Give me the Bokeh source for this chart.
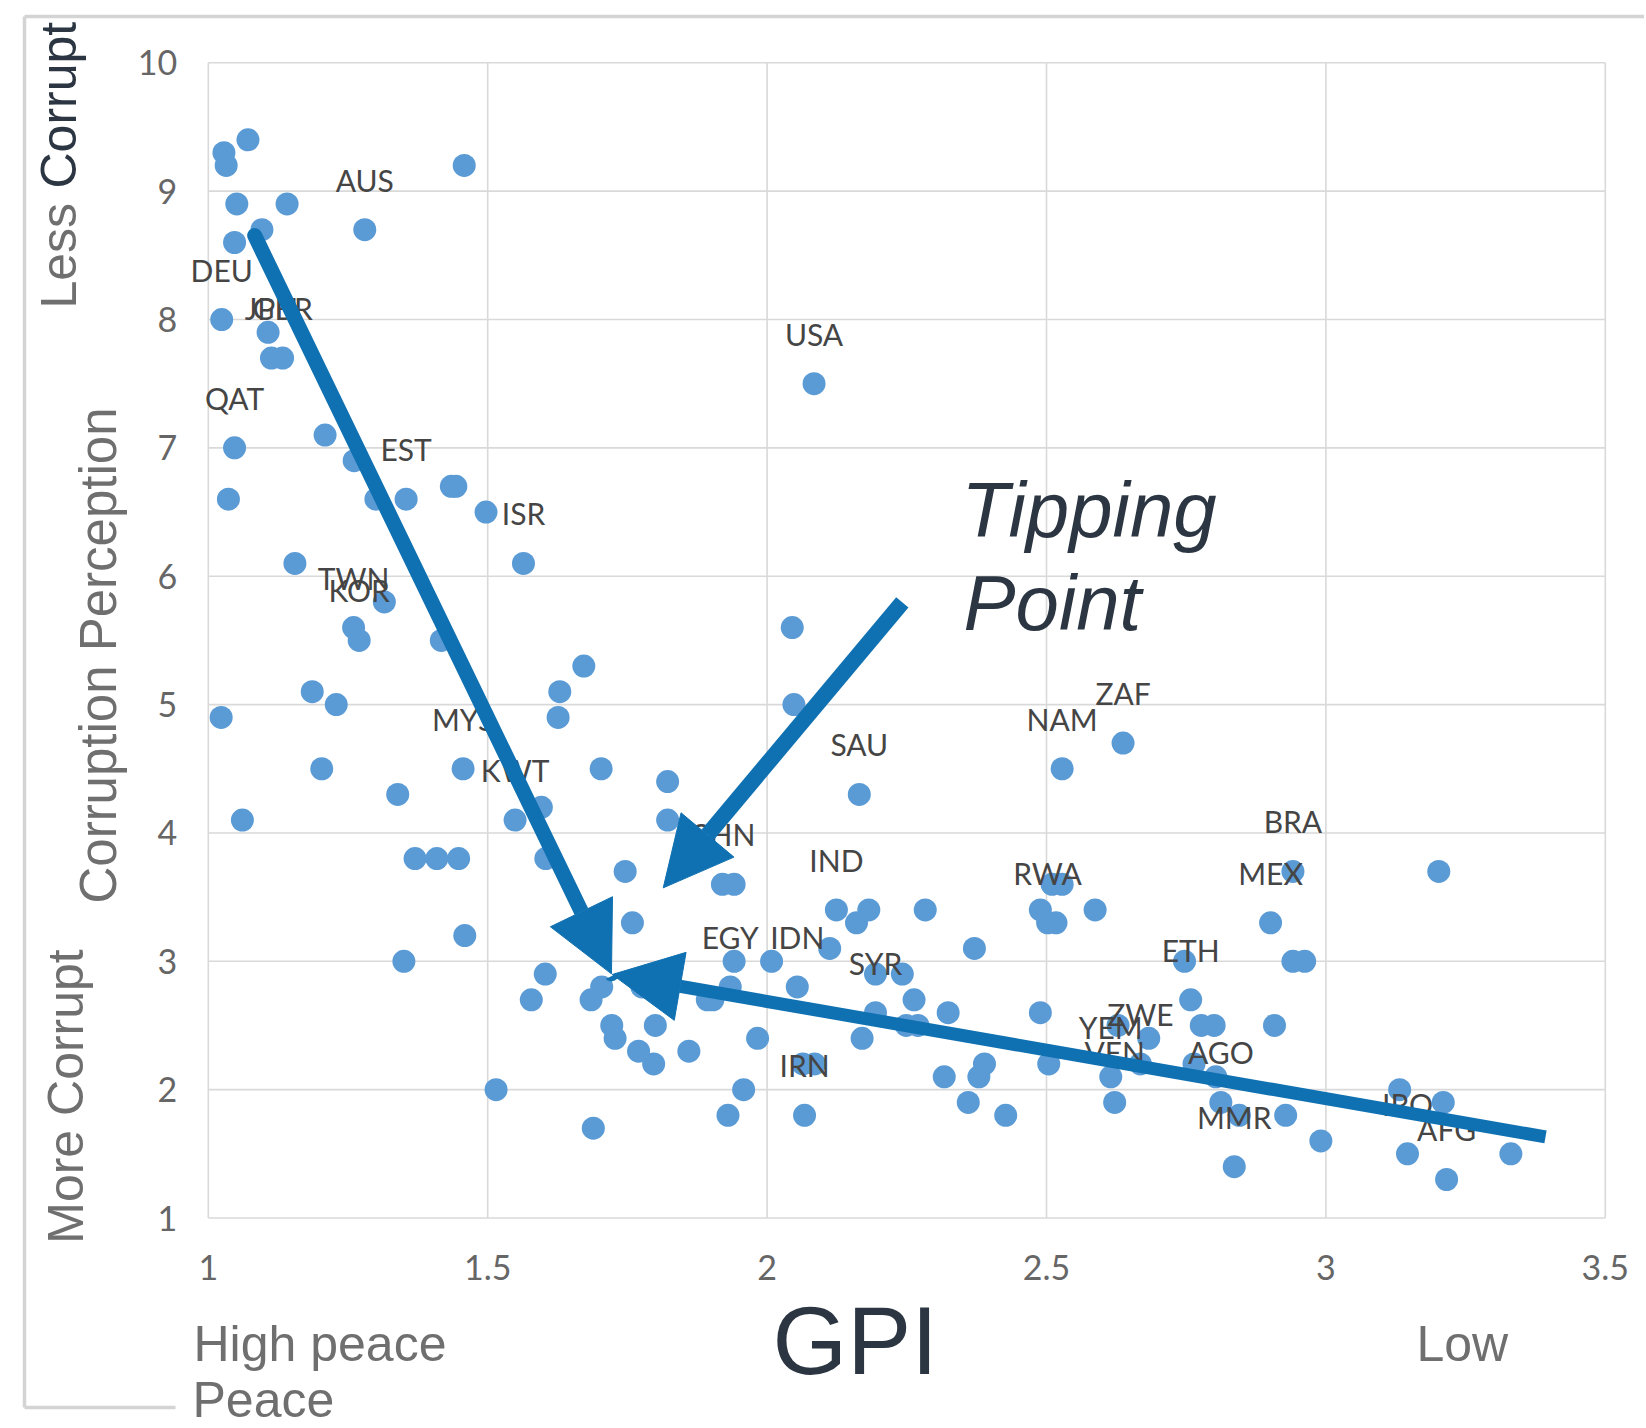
import math
from bokeh.plotting import figure
from bokeh.models import ColumnDataSource, Label, Arrow, NormalHead, FixedTicker, Range1d
from bokeh.core.properties import value
from bokeh.embed import file_html
from bokeh.resources import INLINE

# ---------------- data ----------------
gpi = [1.028, 1.032, 1.071, 1.458, 1.051, 1.141, 1.096, 1.280, 1.047, 1.024,
       1.107, 1.113, 1.133, 2.084, 1.047, 1.209, 1.036, 1.261, 1.300, 1.354,
       1.435, 1.443, 1.497, 1.564, 1.155, 1.260, 1.270, 1.315, 1.417, 1.672,
       1.629, 1.626, 1.186, 1.229, 1.023, 1.203, 1.456, 1.703, 1.822, 1.339,
       1.596, 1.549, 1.061, 1.822, 1.370, 1.409, 1.448, 1.604, 1.746, 1.920,
       1.941, 2.045, 2.048, 2.165, 2.528, 2.637, 1.759, 1.459, 1.350, 1.515,
       1.689, 2.124, 2.182, 2.160, 2.283, 2.112, 2.371, 1.941, 2.008, 1.603,
       1.704, 1.685, 1.578, 1.776, 1.934, 2.054, 2.194, 2.242, 1.893, 1.903,
       2.263, 2.194, 2.324, 2.489, 2.249, 2.270, 1.722, 1.728, 1.800, 2.170,
       1.983, 1.770, 1.797, 1.860, 2.064, 2.085, 2.067, 2.317, 2.379, 2.389,
       2.504, 1.958, 1.930, 2.360, 2.427, 2.489, 2.510, 2.528, 2.502, 2.517,
       2.587, 2.941, 2.901, 3.202, 2.747, 2.941, 2.962, 2.758, 2.628, 2.683,
       2.668, 2.615, 2.622, 2.777, 2.800, 2.908, 2.764, 2.803, 2.812, 2.845,
       2.836, 2.928, 2.991, 3.132, 3.146, 3.210, 3.216, 3.331]
cpi = [9.3, 9.2, 9.4, 9.2, 8.9, 8.9, 8.7, 8.7, 8.6, 8.0,
       7.9, 7.7, 7.7, 7.5, 7.0, 7.1, 6.6, 6.9, 6.6, 6.6,
       6.7, 6.7, 6.5, 6.1, 6.1, 5.6, 5.5, 5.8, 5.5, 5.3,
       5.1, 4.9, 5.1, 5.0, 4.9, 4.5, 4.5, 4.5, 4.4, 4.3,
       4.2, 4.1, 4.1, 4.1, 3.8, 3.8, 3.8, 3.8, 3.7, 3.6,
       3.6, 5.6, 5.0, 4.3, 4.5, 4.7, 3.3, 3.2, 3.0, 2.0,
       1.7, 3.4, 3.4, 3.3, 3.4, 3.1, 3.1, 3.0, 3.0, 2.9,
       2.8, 2.7, 2.7, 2.8, 2.8, 2.8, 2.9, 2.9, 2.7, 2.7,
       2.7, 2.6, 2.6, 2.6, 2.5, 2.5, 2.5, 2.4, 2.5, 2.4,
       2.4, 2.3, 2.2, 2.3, 2.2, 2.2, 1.8, 2.1, 2.1, 2.2,
       2.2, 2.0, 1.8, 1.9, 1.8, 3.4, 3.6, 3.6, 3.3, 3.3,
       3.4, 3.7, 3.3, 3.7, 3.0, 3.0, 3.0, 2.7, 2.5, 2.4,
       2.2, 2.1, 1.9, 2.5, 2.5, 2.5, 2.2, 2.1, 1.9, 1.8,
       1.4, 1.8, 1.6, 2.0, 1.5, 1.9, 1.3, 1.5]
code = ["", "", "", "", "", "", "", "AUS", "", "DEU",
        "", "JPN", "GBR", "USA", "QAT", "", "", "", "", "EST",
        "", "", "", "ISR", "", "TWN", "KOR", "", "", "",
        "", "", "", "", "", "", "MYS", "", "", "",
        "", "KWT", "", "", "", "", "", "", "", "CHN",
        "", "", "", "SAU", "NAM", "ZAF", "", "", "", "",
        "", "IND", "", "", "", "", "", "", "", "",
        "", "", "", "", "EGY", "IDN", "", "", "", "",
        "", "SYR", "", "", "", "", "", "", "", "",
        "", "", "", "", "", "", "IRN", "", "", "",
        "", "", "", "", "", "", "", "", "RWA", "",
        "", "BRA", "MEX", "", "", "", "", "ETH", "", "",
        "ZWE", "YEM", "VEN", "", "", "", "", "", "AGO", "",
        "MMR", "", "", "", "IRQ", "", "AFG", ""]

x_ticks = [1, 1.5, 2, 2.5, 3, 3.5]
x_tick_labels = ["1", "1.5", "2", "2.5", "3", "3.5"]
y_ticks = [1, 2, 3, 4, 5, 6, 7, 8, 9, 10]

# arrows (data coordinates): start -> tip
arrow_x0 = [1.083, 2.242, 3.393]
arrow_y0 = [8.654, 5.797, 1.632]
arrow_x1 = [1.7215, 1.8141, 1.7228]
arrow_y1 = [2.902, 3.572, 2.897]

# ---------------- colours ----------------
GRAY = "#6f6f6f"
DARK = "#2b3642"
BLUE = "#5b9bd5"
ARROW = "#1071b2"
GRID = "#d9d9d9"
FRAME = "#d4d4d4"

# ---------------- geometry (px on the page) ----------------
W, H = 1644, 1426
PL, PR, PT, PB = 207.8, 1604.8, 62.3, 1217.5      # plot area: x 1..3.5, y 1..10
xu = (PR - PL) / 2.5
yu = (PB - PT) / 9.0


def dx(px):
    return 1 + (px - PL) / xu


def dy(py):
    return 10 - (py - PT) / yu


p = figure(width=W, height=H, x_range=Range1d(dx(0), dx(W)), y_range=Range1d(dy(H), dy(0)),
           output_backend="svg", toolbar_location=None, min_border=0)
p.min_border_left = p.min_border_right = p.min_border_top = p.min_border_bottom = 0
p.background_fill_color = "white"
p.border_fill_color = "white"
p.outline_line_color = None
p.grid.visible = False

# grid lines restricted to the plot area
gsrc_v = ColumnDataSource(dict(x0=x_ticks, y0=[y_ticks[0]] * len(x_ticks),
                               x1=x_ticks, y1=[y_ticks[-1]] * len(x_ticks)))
gsrc_h = ColumnDataSource(dict(x0=[x_ticks[0]] * len(y_ticks), y0=y_ticks,
                               x1=[x_ticks[-1]] * len(y_ticks), y1=y_ticks))
for gs in (gsrc_v, gsrc_h):
    p.segment("x0", "y0", "x1", "y1", source=gs, line_color=GRID, line_width=1.6)

# axes drawn at the plot-area edges
p.xaxis.fixed_location = y_ticks[0]
p.yaxis.fixed_location = x_ticks[0]
p.xaxis.ticker = FixedTicker(ticks=x_ticks)
p.yaxis.ticker = FixedTicker(ticks=y_ticks)
p.xaxis.major_label_overrides = {t: l for t, l in zip(x_ticks, x_tick_labels)}
for ax in (p.xaxis, p.yaxis):
    ax.axis_line_color = None
    ax.major_tick_line_color = None
    ax.minor_tick_line_color = None
    ax.major_tick_out = 0
    ax.major_tick_in = 0
    ax.major_label_text_font = "Lato"
    ax.major_label_text_font_size = "34px"
    ax.major_label_text_color = "#666666"
p.xaxis.major_label_standoff = 37
p.yaxis.major_label_standoff = 31

# outer partial frame of the chart
p.segment(x0=[dx(24), dx(24), dx(24)], y0=[dy(16), dy(16), dy(1407)],
          x1=[dx(W), dx(24), dx(175)], y1=[dy(16), dy(1407), dy(1407)],
          line_color=FRAME, line_width=3.5)

# points and country labels
src = ColumnDataSource(dict(gpi=gpi, cpi=cpi))
p.scatter("gpi", "cpi", source=src, size=23, fill_color=BLUE, line_color=None)

lab = [(x, y, c) for x, y, c in zip(gpi, cpi, code) if c]
lsrc = ColumnDataSource(dict(gpi=[a[0] for a in lab], cpi=[a[1] for a in lab],
                             code=[a[2] for a in lab]))
p.text("gpi", "cpi", text="code", source=lsrc, text_align="center", text_baseline="alphabetic",
       y_offset=-50, text_font=value("Lato"), text_font_size="30px", text_color="#454545")

# arrows
widths = [15, 16, 13]
caps = ["round", "butt", "butt"]
for x0, y0, x1, y1, w, cap in zip(arrow_x0, arrow_y0, arrow_x1, arrow_y1, widths, caps):
    p.add_layout(Arrow(end=NormalHead(size=69, fill_color=ARROW, line_color=ARROW, line_width=1),
                       x_start=x0, y_start=y0, x_end=x1, y_end=y1,
                       line_color=ARROW, line_width=w, line_cap=cap))


def add_label(text, px, py, size, color, font="Liberation Sans", angle=0.0, align="left",
              style="normal"):
    p.add_layout(Label(x=dx(px), y=dy(py), text=text, angle=angle, text_align=align,
                       text_baseline="alphabetic", text_font=font, text_font_size=f"{size}px",
                       text_color=color, text_font_style=style))


R = math.pi / 2
add_label("Less ", 58, 308, 50, GRAY, angle=R)
add_label("Corrupt", 58, 188, 50, DARK, angle=R)
add_label("Corruption Perception", 98, 655, 51, GRAY, angle=R, align="center")
add_label("More Corrupt", 65, 1096, 50, GRAY, angle=R, align="center")
add_label("Tipping", 961, 509, 78, DARK, style="italic")
add_label("Point", 963, 602, 78, DARK, style="italic")
add_label("GPI", 772, 1340, 96, DARK)
add_label("High peace", 193, 1343, 50, GRAY)
add_label("Peace", 192, 1399, 50, GRAY)
add_label("Low", 1416, 1343, 50, GRAY)

open("out.html", "w").write(file_html(p, INLINE))
